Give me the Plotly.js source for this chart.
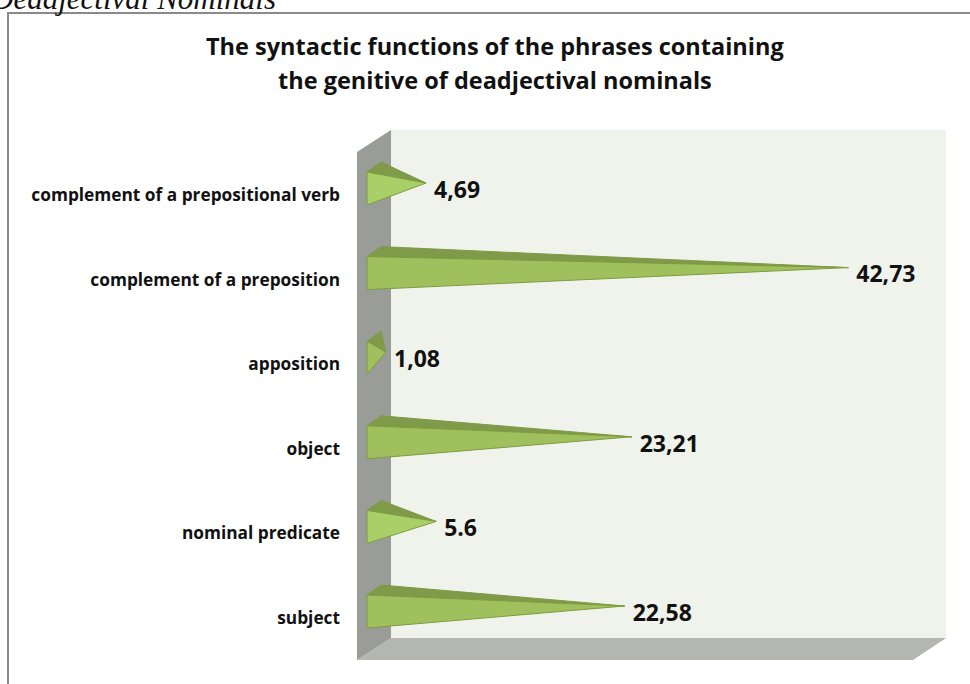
<!DOCTYPE html>
<html><head><meta charset="utf-8">
<script src="https://cdn.plot.ly/plotly-3.0.1.min.js"></script>
<style>html,body{margin:0;padding:0;background:#fff;overflow:hidden}</style>
</head><body><div id="c" style="width:970px;height:684px"></div>
<script>
const categories = ["subject","nominal predicate","object","apposition","complement of a preposition","complement of a prepositional verb"];
const values = [22.58,5.6,23.21,1.08,42.73,4.69];
const valueLabels = ["22,58","5.6","23,21","1,08","42,73","4,69"];
const titleLines = ["The syntactic functions of the phrases containing","the genitive of deadjectival nominals"];
const W=970,H=684;
const PXU=11.1, X0=374, YT=618, PYU=84.6;
const xr=[-X0/PXU,(W-X0)/PXU];
const yr=[(YT-H)/PYU,YT/PYU];
const X=p=>(p-X0)/PXU;
const base=X(367), back=X(381);
const FONT="'Open Sans', sans-serif";
const traces=[];
const lightGreens=[false,true,false,false,false,true];
categories.forEach((c,i)=>{
  const v=values[i];
  const yFrontTop=i+23/PYU, yFrontBot=i-10/PYU, yBackTop=i+33/PYU, yTip=i+12/PYU;
  traces.push({type:'scatter',mode:'lines',x:[base,back,v,base],y:[yFrontTop,yBackTop,yTip,yFrontTop],fill:'toself',fillcolor:'#7f9a48',line:{color:'#7f9a48',width:1},hoverinfo:'skip',showlegend:false});
  traces.push({type:'scatter',mode:'lines',x:[base,base,v,base],y:[yFrontTop,yFrontBot,yTip,yFrontTop],fill:'toself',fillcolor:lightGreens[i]?'#a9cf68':'#a0c05e',line:{color:'#7d9c3f',width:1},hoverinfo:'skip',showlegend:false});
});
traces.push({type:'scatter',mode:'text',x:values.map(v=>v+8/PXU),y:categories.map((c,i)=>i+3/PYU),text:valueLabels,textposition:'middle right',textfont:{family:FONT,size:23,color:'#111',weight:700},hoverinfo:'skip',showlegend:false,cliponaxis:false});
const poly=(pts,color)=>({type:'path',xref:'paper',yref:'paper',layer:'below',
  path:'M'+pts.map(p=>(p[0]/W).toFixed(5)+','+(1-p[1]/H).toFixed(5)).join(' L')+' Z',fillcolor:color,line:{width:0}});
const layout={width:W,height:H,margin:{l:0,r:0,t:0,b:0},paper_bgcolor:'#fff',plot_bgcolor:'rgba(0,0,0,0)',showlegend:false,
 xaxis:{domain:[0,1],range:xr,visible:false,fixedrange:true},
 yaxis:{anchor:'free',position:340/W,side:'left',range:yr,tickmode:'array',tickvals:categories.map((c,i)=>i),ticktext:categories,ticks:'',showgrid:false,zeroline:false,showline:false,automargin:false,tickfont:{family:FONT,size:17.3,color:'#111',weight:700},ticklabelstandoff:0},
 shapes:[
  poly([[391,130],[946,130],[946,638],[391,638]],'#f0f3eb'),
  poly([[357,660],[391,638],[946,638],[913,660]],'#b4b6b1'),
  poly([[357,152],[391,130],[391,638],[357,660]],'#9a9c98'),
  {type:'path',xref:'paper',yref:'paper',layer:'below',path:`M${8/W},${1-690/H} L${8/W},${1-13/H} L${975/W},${1-13/H}`,line:{color:'#8a8a8a',width:2}}
 ],
 annotations:[
  {xref:'paper',yref:'paper',x:495/W,y:1-46/H,xanchor:'center',yanchor:'middle',showarrow:false,
   text:titleLines[0],font:{family:FONT,size:23.5,color:'#111',weight:700}},
  {xref:'paper',yref:'paper',x:495/W,y:1-80/H,xanchor:'center',yanchor:'middle',showarrow:false,
   text:titleLines[1],font:{family:FONT,size:23.5,color:'#111',weight:700}},
  {xref:'paper',yref:'paper',x:-12/W,y:1+1/H,xanchor:'left',yanchor:'middle',showarrow:false,
   text:'<i>Deadjectival Nominals</i>',font:{family:"'Liberation Serif',serif",size:31,color:'#111'}}
 ]};
Plotly.newPlot('c',traces,layout,{displayModeBar:false,staticPlot:true});
</script></body></html>
